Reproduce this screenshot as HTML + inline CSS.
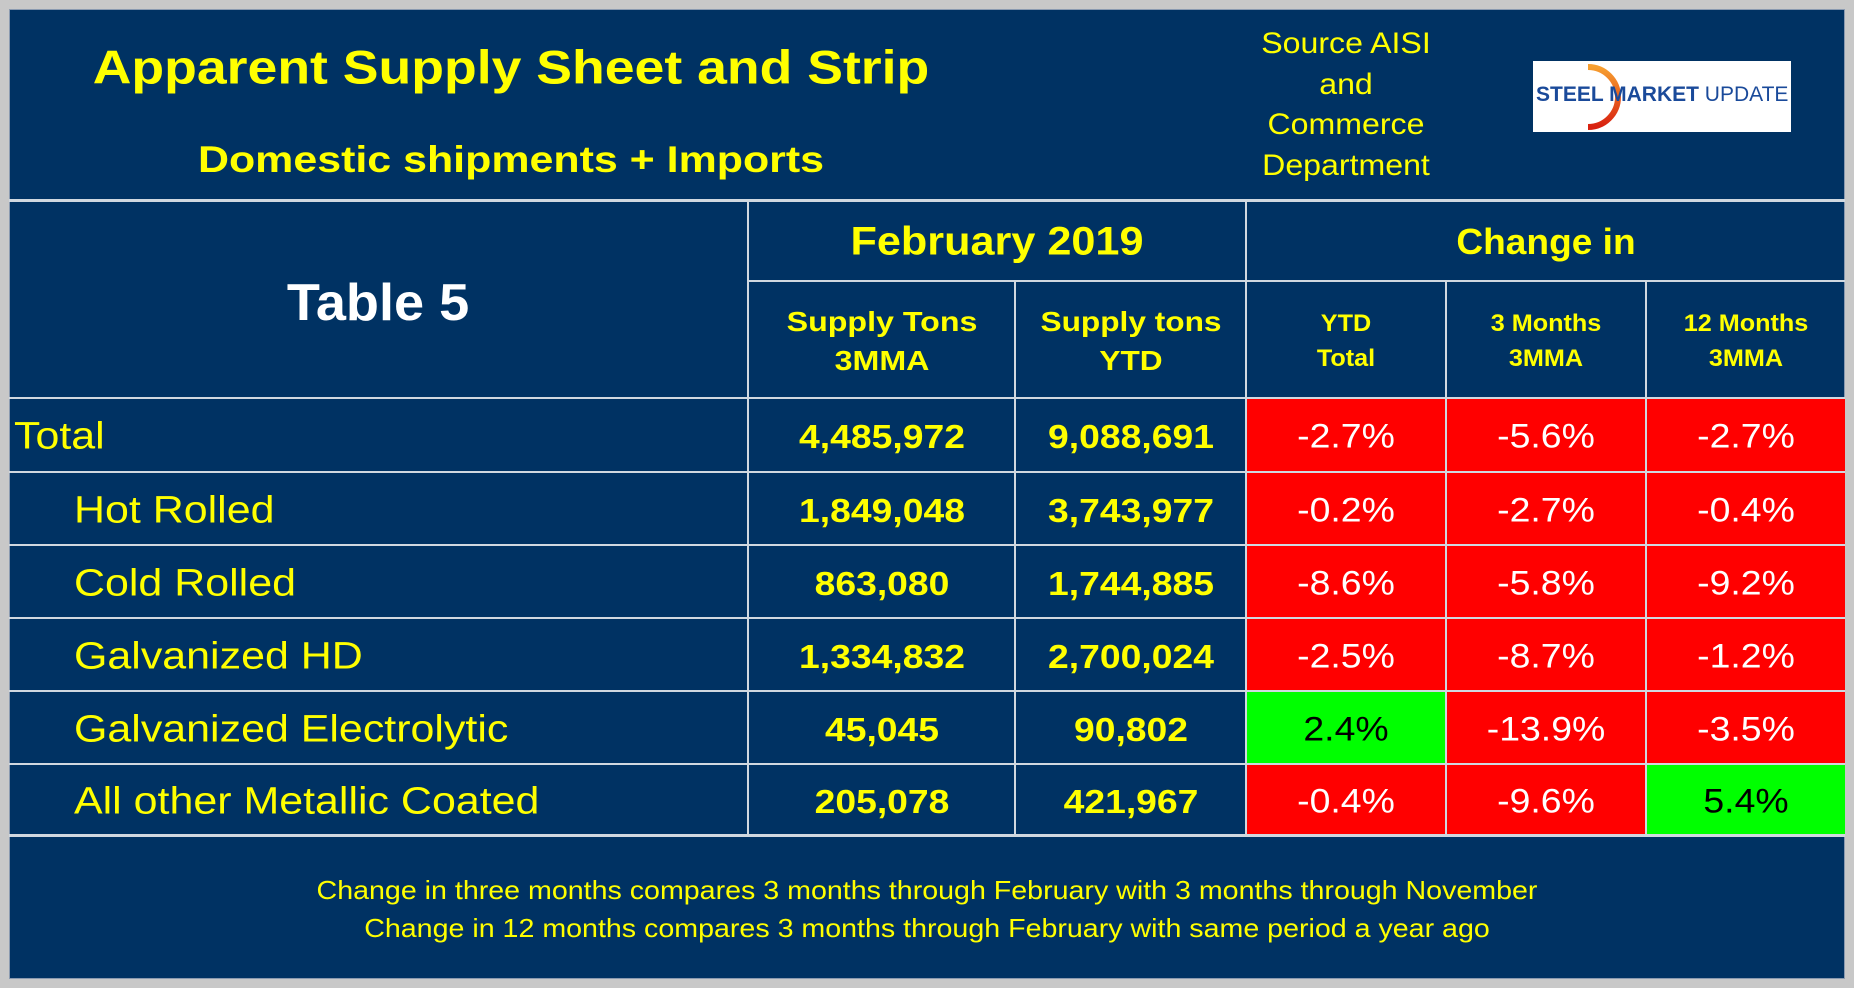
<!DOCTYPE html>
<html><head><meta charset="utf-8"><style>
body{margin:0;width:1854px;height:988px;background:#c8c8c8;font-family:"Liberation Sans",Arial,sans-serif;overflow:hidden}
#frame{position:absolute;left:9px;top:9px;width:1836px;height:970px;background:#003263;border:1px solid #8a9ab0;box-sizing:border-box}
.t{position:absolute;color:#ffff00;white-space:nowrap;text-align:center;transform:translate(-50%,-50%) scaleX(var(--s,1))}
.l{position:absolute;color:#ffff00;white-space:nowrap;transform-origin:left center;transform:translateY(-50%) scaleX(var(--s,1))}
.hl{position:absolute;height:2px;background:#d0d8e0}
.vl{position:absolute;width:2px;background:#d0d8e0}
.c{position:absolute}
</style></head><body>
<div id="frame"></div>
<div class="t" style="left:511px;top:67px;font-size:47px;font-weight:bold;--s:1.14">Apparent Supply Sheet and Strip</div>
<div class="t" style="left:511px;top:160px;font-size:37px;font-weight:bold;--s:1.16">Domestic shipments + Imports</div>
<div class="t" style="left:1346px;top:105px;font-size:30px;line-height:40.5px;--s:1.07">Source AISI<br>and<br>Commerce<br>Department</div>
<div class="c" style="left:1533px;top:61px;width:258px;height:71px;background:#fff;overflow:hidden">
<svg width="258" height="71" style="position:absolute;left:0;top:0"><defs><linearGradient id="g" x1="0" y1="0" x2="0" y2="1"><stop offset="0" stop-color="#f7a030"/><stop offset="1" stop-color="#d82010"/></linearGradient></defs><path d="M55 6 A30 30 0 1 1 55 66" fill="none" stroke="url(#g)" stroke-width="6"/></svg>
<div style="position:absolute;left:3px;top:22px;font-size:21px;color:#1a4a9a;white-space:nowrap;transform-origin:left;transform:scaleX(1.0)"><b>STEEL MARKET</b> UPDATE</div></div>
<div class="hl" style="left:9px;top:199px;width:1836px;height:3px"></div>
<div id="cells"></div>
<div class="t" style="left:378px;top:303px;font-size:52px;font-weight:bold;color:#fff;--s:1.04">Table 5</div>
<div class="t" style="left:997px;top:242px;font-size:40px;font-weight:bold;--s:1.08">February 2019</div>
<div class="t" style="left:1546px;top:242px;font-size:36px;font-weight:bold;--s:1.03">Change in</div>
<div class="t" style="left:882px;top:341px;font-size:28px;font-weight:bold;line-height:39px;--s:1.15">Supply Tons<br>3MMA</div>
<div class="t" style="left:1131px;top:341px;font-size:28px;font-weight:bold;line-height:39px;--s:1.13">Supply tons<br>YTD</div>
<div class="t" style="left:1346px;top:341px;font-size:24px;font-weight:bold;line-height:35px;--s:1.05">YTD<br>Total</div>
<div class="t" style="left:1546px;top:341px;font-size:24px;font-weight:bold;line-height:35px;--s:1.05">3 Months<br>3MMA</div>
<div class="t" style="left:1746px;top:341px;font-size:24px;font-weight:bold;line-height:35px;--s:1.05">12 Months<br>3MMA</div>
<div class="t" style="left:927px;top:909px;font-size:26px;line-height:38px;--s:1.1">Change in three months compares 3 months through February with 3 months through November<br>Change in 12 months compares 3 months through February with same period a year ago</div>
<script>
const labels=["Total","Hot Rolled","Cold Rolled","Galvanized HD","Galvanized Electrolytic","All other Metallic Coated"];
const tons3mma=["4,485,972","1,849,048","863,080","1,334,832","45,045","205,078"];
const tonsYtd=["9,088,691","3,743,977","1,744,885","2,700,024","90,802","421,967"];
const chgYtd=[-2.7,-0.2,-8.6,-2.5,2.4,-0.4];
const chg3m=[-5.6,-2.7,-5.8,-8.7,-13.9,-9.6];
const chg12m=[-2.7,-0.4,-9.2,-1.2,-3.5,5.4];
const rowY=[398,472,545,618,691,764,835];
const colX=[9,748,1015,1246,1446,1646,1845];
const cells=document.getElementById('cells');
function mk(cls,style,txt){const d=document.createElement('div');d.className=cls;d.style.cssText=style;if(txt!==undefined)d.textContent=txt;cells.appendChild(d);return d;}
labels.forEach((lab,i)=>{
  const y0=rowY[i],y1=rowY[i+1],cy=(y0+y1)/2;
  [chgYtd,chg3m,chg12m].forEach((arr,k)=>{
    const v=arr[i];
    const bg=mk('c',`left:${colX[3+k]}px;top:${y0}px;width:${colX[4+k]-colX[3+k]}px;height:${y1-y0}px;background:${v>=0?'#00ff00':'#ff0000'}`);
    
    
    const t=mk('t',`left:${(colX[3+k]+colX[4+k])/2}px;top:${cy+2}px;font-size:34px;--s:1.1;color:${v>=0?'#000':'#fff'}`,v.toFixed(1)+'%');
    
    
  });
  const l=mk('l',`left:${i==0?14:74}px;top:${cy+2}px;font-size:38px;--s:1.13`,lab);
  
  
  const a=mk('t',`left:${(colX[1]+colX[2])/2}px;top:${cy+2}px;font-size:33px;font-weight:bold;--s:1.13`,tons3mma[i]);
  
  
  const b=mk('t',`left:${(colX[2]+colX[3])/2}px;top:${cy+2}px;font-size:33px;font-weight:bold;--s:1.13`,tonsYtd[i]);
  
  
});
rowY.forEach((y,i)=>{const h=mk('hl',`left:9px;top:${y-1}px;width:1836px;${i==6?'height:3px':''}`);

});
const h2=mk('hl',`left:748px;top:280px;width:1097px`);


[1,3].forEach(k=>{const v=mk('vl',`left:${colX[k]-1}px;top:200px;height:635px`);

});
[2,4,5].forEach(k=>{const v=mk('vl',`left:${colX[k]-1}px;top:281px;height:554px`);

});
</script>
</body></html>
